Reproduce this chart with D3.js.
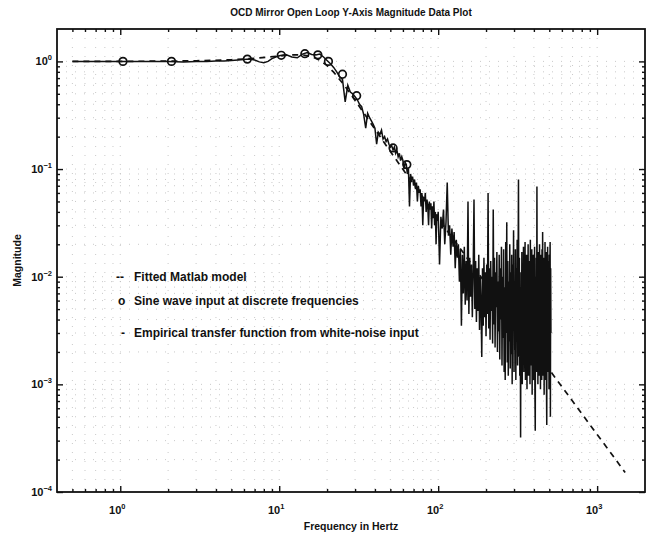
<!DOCTYPE html>
<html><head><meta charset="utf-8">
<script src="https://cdn.jsdelivr.net/npm/d3@7"></script>
<style>
html,body{margin:0;padding:0;background:#fff;}
text{font-family:"Liberation Sans",Arial,Helvetica,sans-serif;font-weight:bold;fill:#111;}
</style></head>
<body><svg id="c" width="651" height="539"></svg>
<script>
// ---- DATA ----
const titleText = "OCD Mirror Open Loop Y-Axis Magnitude Data Plot";
const xLabelText = "Frequency in Hertz";
const yLabelText = "Magnitude";
const xTickExps = [0, 1, 2, 3];
const yTickExps = [0, -1, -2, -3, -4];
const legendLabels = ["Fitted Matlab model", "Sine wave input at discrete frequencies", "Empirical transfer function from white-noise input"];
const legendSymbols = ["--", "o", "-"];

// fitted model (dashed)
const modelFreq = [0.5,1,2,3,5,7,10,12,14,16,18,20,22,25,28,32,36,40,45,50,60,70,80,100,130,160,200,250,300,400,500,600,800,1000,1200,1500];
const modelMag  = [1.000,1.001,1.006,1.013,1.036,1.068,1.123,1.150,1.151,1.110,1.026,0.914,0.794,0.631,0.503,0.379,0.294,0.2345,0.1824,0.1459,0.0994,0.0723,0.0549,0.0348,0.02046,0.01346,0.00859,0.00549,0.00381,0.00214,0.00137,0.000951,0.000535,0.000342,0.000238,0.000152];

// sine wave measurements (circles)
const sineFreq = [1.04, 2.1, 6.3, 10.3, 14.5, 17.5, 20.4, 25, 30.7, 52, 63.5];
const sineMag  = [1.0, 1.0, 1.05, 1.14, 1.18, 1.15, 1.0, 0.76, 0.48, 0.157, 0.11];

// empirical transfer function (solid)
const empFreqLow = [0.5,1,1.5,2,2.5,3,3.5,4,4.5,5,5.5,6,6.5,7,7.5,8,8.5,9,9.5,10,
 11,12,13,14,15,16,17,18,19,20,21,22,23,24,25,26,27,28,29,30,31,32,33,34,35,36,37,38,39,40,
 41,42,43,44,45,46,47,48,49,50,51,52,53,54,55,56,57,58,59,60,61,62,63,64,65,66,67,68,69,70,
 71,72,73,74,75,76,77,78,79,80,81,82,83,84,85,86,87,88,89,90,91,92,93,94,95,96,97,98,99];
const empMagLow = [1.00,1.00,1.00,1.00,0.99,1.00,1.00,1.01,1.01,1.02,1.03,1.04,1.05,1.03,0.99,0.97,1.00,1.06,1.10,1.13,
 1.16,1.10,1.08,1.17,1.21,1.16,1.15,1.17,1.10,1.02,0.95,0.88,0.80,0.72,0.68,0.42,0.60,0.52,0.50,0.47,0.44,0.40,0.38,0.32,0.24,0.33,0.30,0.28,0.26,0.24,
 0.17,0.22,0.21,0.23,0.19,0.20,0.18,0.19,0.17,0.16,0.165,0.15,0.16,0.14,0.15,0.13,0.14,0.12,0.13,0.12,0.10,0.115,0.11,0.09,0.10,0.045,0.09,0.08,0.085,0.07,
 0.08,0.065,0.075,0.05,0.07,0.06,0.065,0.045,0.06,0.03,0.055,0.05,0.06,0.04,0.052,0.045,0.03,0.05,0.042,0.048,0.028,0.045,0.035,0.05,0.03,0.04,0.02,0.038,0.033];
const empFreqHigh = [100,102,104,106,108,110,112,114,116,118,120,122,124,126,128,130,132,134,136,138,140,142,144,146,148,150,152,154,156,158,
 160,162,164,166,168,170,172,174,176,178,180,182,184,186,188,190,192,194,196,198,200,202,204,206,208,210,212,214,216,218,
 220,222,224,226,228,230,232,234,236,238,240,242,244,246,248,250,252,254,256,258,260,262,264,266,268,270,272,274,276,278,
 280,282,284,286,288,290,292,294,296,298,300,302,304,306,308,310,312,314,316,318,320,322,324,326,328,330,332,334,336,338,
 340,342,344,346,348,350,352,354,356,358,360,362,364,366,368,370,372,374,376,378,380,382,384,386,388,390,392,394,396,398,
 400,402,404,406,408,410,412,414,416,418,420,422,424,426,428,430,432,434,436,438,440,442,444,446,448,450,452,454,456,458,
 460,462,464,466,468,470,472,474,476,478,480,482,484,486,488,490,492,494,496,498,500,502,504,506,508,510,512];
const empMagHigh = [0.040,0.013,0.036,0.028,0.042,0.020,0.032,0.075,0.024,0.030,0.016,0.028,0.019,0.026,0.012,0.022,0.015,0.020,0.009,0.018,0.0035,0.016,0.007,0.019,0.0055,0.014,0.006,0.050,0.0045,0.015,
 0.0065,0.013,0.0042,0.011,0.052,0.005,0.014,0.0038,0.012,0.0048,0.016,0.0032,0.010,0.0055,0.0018,0.012,0.0035,0.015,0.0042,0.011,0.0028,0.013,0.0045,0.060,0.0033,0.012,0.0026,0.014,0.0048,0.010,
 0.0024,0.042,0.0036,0.015,0.0022,0.011,0.0052,0.017,0.0020,0.009,0.0031,0.016,0.0017,0.012,0.0040,0.019,0.0015,0.010,0.0027,0.018,0.0013,0.008,0.0011,0.021,0.0030,0.032,0.0016,0.014,0.0012,0.009,
 0.0025,0.020,0.0014,0.011,0.0019,0.016,0.0010,0.013,0.0035,0.027,0.0013,0.009,0.0021,0.018,0.0011,0.012,0.0028,0.022,0.0015,0.010,0.080,0.0018,0.015,0.0012,0.008,0.00032,0.011,0.0020,0.017,0.0010,
 0.013,0.0026,0.019,0.0013,0.009,0.0022,0.021,0.0011,0.012,0.0030,0.016,0.0009,0.010,0.0017,0.020,0.0012,0.007,0.0024,0.014,0.0010,0.022,0.0015,0.011,0.0028,0.018,0.0008,0.009,0.0020,0.016,0.0011,
 0.012,0.0025,0.019,0.0009,0.00037,0.010,0.0016,0.015,0.0013,0.069,0.0021,0.011,0.0010,0.017,0.0027,0.008,0.0012,0.020,0.0018,0.013,0.0009,0.016,0.0023,0.010,0.0011,0.018,0.0015,0.026,0.0012,0.012,
 0.0030,0.015,0.0008,0.009,0.0019,0.021,0.0011,0.013,0.0024,0.017,0.0010,0.00042,0.011,0.0016,0.019,0.0013,0.010,0.0026,0.014,0.0009,0.016,0.0020,0.011,0.021,0.0005,0.012,0.0030];

// ---- CHART ----
const svg = d3.select("#c");
const L = 57, R = 645, T = 29, B = 492;
const x = d3.scaleLog().domain([0.4, 2000]).range([L, R]);
const y = d3.scaleLog().domain([2, 1e-4]).range([T, B]);

// grid (faint dotted)
const gridX = [], gridY = [];
for (let e = -1; e <= 3; e++) for (let k = 1; k <= 9; k++) { const v = k * Math.pow(10, e); if (v > 0.4 && v < 2000) gridX.push(v); }
for (let e = -4; e <= 0; e++) for (let k = 1; k <= 9; k++) { const v = k * Math.pow(10, e); if (v > 1e-4 && v < 2) gridY.push(v); }
const g = svg.append("g");
g.selectAll(".gx").data(gridX).enter().append("line")
  .attr("x1", d => x(d)).attr("x2", d => x(d)).attr("y1", T).attr("y2", B)
  .attr("stroke", "#bbb").attr("stroke-width", 0.8).attr("stroke-dasharray", "1,8");
g.selectAll(".gy").data(gridY).enter().append("line")
  .attr("y1", d => y(d)).attr("y2", d => y(d)).attr("x1", L).attr("x2", R)
  .attr("stroke", "#bbb").attr("stroke-width", 0.8).attr("stroke-dasharray", "1,8");

// axes with inward ticks
const majorX = xTickExps.map(e => Math.pow(10, e));
const majorY = yTickExps.map(e => Math.pow(10, e));
const minorX = gridX.filter(v => !majorX.some(m => Math.abs(m - v) < 1e-9));
const minorY = gridY.filter(v => !majorY.some(m => Math.abs(m - v) / m < 1e-9));
function axisG(axisFn, scale, vals, size, tx, ty) {
  const a = axisFn(scale).tickValues(vals).tickSize(size).tickFormat("");
  const gg = svg.append("g").attr("transform", `translate(${tx},${ty})`).call(a);
  gg.select(".domain").remove();
  gg.selectAll("line").attr("stroke", "#111").attr("stroke-width", 1.4);
}
axisG(d3.axisTop, x, majorX, 6, 0, B);
axisG(d3.axisTop, x, minorX, 3, 0, B);
axisG(d3.axisBottom, x, majorX, 6, 0, T);
axisG(d3.axisBottom, x, minorX, 3, 0, T);
axisG(d3.axisRight, y, majorY, 6, L, 0);
axisG(d3.axisRight, y, minorY, 3, L, 0);
axisG(d3.axisLeft, y, majorY, 6, R, 0);
axisG(d3.axisLeft, y, minorY, 3, R, 0);
svg.append("rect").attr("x", L).attr("y", T).attr("width", R - L).attr("height", B - T)
  .attr("fill", "none").attr("stroke", "#111").attr("stroke-width", 1.8);

// tick labels
majorX.forEach((v, i) => {
  const t = svg.append("text").attr("x", x(v) - 3).attr("y", 514).attr("text-anchor", "middle").attr("font-size", 11);
  t.append("tspan").text("10");
  t.append("tspan").attr("dy", -5).attr("font-size", 7.5).text(xTickExps[i]);
});
majorY.forEach((v, i) => {
  const t = svg.append("text").attr("x", 52).attr("y", y(v) + 4).attr("text-anchor", "end").attr("font-size", 11);
  t.append("tspan").text("10");
  t.append("tspan").attr("dy", -5).attr("font-size", 7.5).text(yTickExps[i] === 0 ? "0" : "\u2212" + (-yTickExps[i]));
});

// title & axis labels
svg.append("text").attr("x", (L + R) / 2).attr("y", 16).attr("text-anchor", "middle").attr("font-size", 10).text(titleText);
svg.append("text").attr("x", (L + R) / 2).attr("y", 530).attr("text-anchor", "middle").attr("font-size", 10.5).text(xLabelText);
svg.append("text").attr("transform", `translate(21,${(T + B) / 2}) rotate(-90)`).attr("text-anchor", "middle").attr("font-size", 10.5).text(yLabelText);

// data lines
const line = d3.line().x(d => x(d[0])).y(d => y(d[1]));
const empPts = empFreqLow.map((f, i) => [f, empMagLow[i]]).concat(empFreqHigh.map((f, i) => [f, empMagHigh[i]]));
svg.append("path").datum(modelFreq.map((f, i) => [f, modelMag[i]]))
  .attr("d", line).attr("fill", "none").attr("stroke", "#111").attr("stroke-width", 1.7).attr("stroke-dasharray", "6,5");
svg.append("path").datum(empPts)
  .attr("d", line).attr("fill", "none").attr("stroke", "#111").attr("stroke-width", 1.5).attr("stroke-linejoin", "miter");
svg.selectAll(".pt").data(sineFreq.map((f, i) => [f, sineMag[i]])).enter().append("circle")
  .attr("cx", d => x(d[0])).attr("cy", d => y(d[1])).attr("r", 3.8)
  .attr("fill", "none").attr("stroke", "#111").attr("stroke-width", 1.7);

// legend (text-based like the original)
const legY = [281, 305, 337];
const symX = [116, 118, 121];
legendLabels.forEach((lab, i) => {
  svg.append("text").attr("x", symX[i]).attr("y", legY[i]).attr("font-size", 12).text(legendSymbols[i]);
  svg.append("text").attr("x", 134).attr("y", legY[i]).attr("font-size", 12).text(lab);
});
</script></body></html>
